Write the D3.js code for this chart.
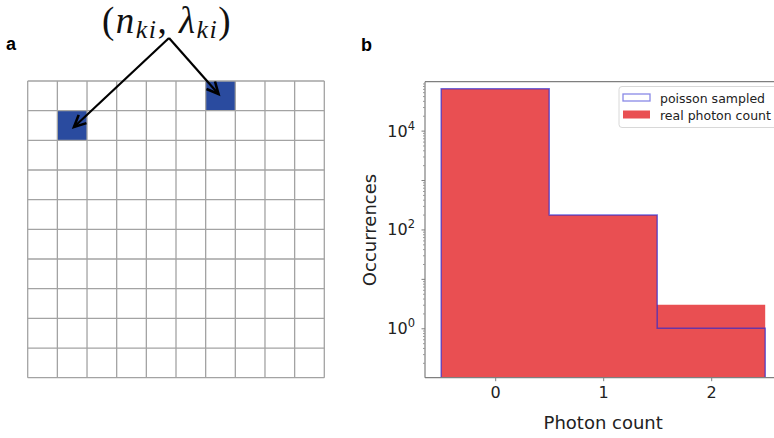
<!DOCTYPE html>
<html>
<head>
<meta charset="utf-8">
<script src="https://cdn.jsdelivr.net/npm/d3@7"></script>
<style>
  html, body { margin: 0; padding: 0; background: #fff; }
  svg { display: block; }
</style>
</head>
<body>
<svg id="fig" width="774" height="438"></svg>
<script>
// ---- panel a: pixel grid ----
const gridRows = d3.range(10);
const gridCols = d3.range(10);
const highlightedCells = [ { row: 0, col: 6 }, { row: 1, col: 1 } ];

// ---- panel b: photon-count histogram ----
const photonCounts = [0, 1, 2];
const realCounts = [70000, 195, 3];
const poissonCounts = [70000, 195, 1];
const yTickValues = [1, 100, 10000];
const yTickLabels = ["0", "2", "4"];
const seriesNames = ["poisson sampled", "real photon count"];

const svg = d3.select("#fig");
const sans = "DejaVu Sans, sans-serif";

// ===== Panel a =====
const ga = svg.append("g");
const gx = d3.scaleBand().domain(gridCols).range([27.7, 324.3]).paddingInner(0).paddingOuter(0);
const gy = d3.scaleBand().domain(gridRows).range([81, 377.7]);

ga.selectAll("rect.cell").data(highlightedCells).join("rect")
  .attr("class", "cell")
  .attr("x", d => gx(d.col)).attr("y", d => gy(d.row))
  .attr("width", gx.bandwidth()).attr("height", gy.bandwidth())
  .attr("fill", "#2a4b9f");

const gridLineColor = "#a3a3a3";
ga.selectAll("line.v").data(d3.range(11)).join("line")
  .attr("class", "v")
  .attr("x1", i => gx.range()[0] + i * gx.step()).attr("x2", i => gx.range()[0] + i * gx.step())
  .attr("y1", gy.range()[0]).attr("y2", gy.range()[1])
  .attr("stroke", gridLineColor).attr("stroke-width", 1.3);
ga.selectAll("line.h").data(d3.range(11)).join("line")
  .attr("class", "h")
  .attr("y1", i => gy.range()[0] + i * gy.step()).attr("y2", i => gy.range()[0] + i * gy.step())
  .attr("x1", gx.range()[0]).attr("x2", gx.range()[1])
  .attr("stroke", gridLineColor).attr("stroke-width", 1.3);

// annotation label
const lab = ga.append("text")
  .attr("x", 167).attr("y", 33)
  .attr("text-anchor", "middle")
  .attr("font-family", "Liberation Serif, Times New Roman, serif")
  .attr("font-size", 37)
  .attr("letter-spacing", 1.5)
  .attr("fill", "#111");
lab.append("tspan").text("(");
lab.append("tspan").attr("font-style", "italic").text("n");
lab.append("tspan").attr("font-style", "italic").attr("font-size", 26).attr("dy", 5).text("ki");
lab.append("tspan").attr("dy", -5).text(", ");
lab.append("tspan").attr("font-style", "italic").text("λ");
lab.append("tspan").attr("font-style", "italic").attr("font-size", 26).attr("dy", 5).text("ki");
lab.append("tspan").attr("dy", -5).text(")");

// arrows from the label to the two highlighted cells
const apex = [169, 38];
const arrowTips = [ [74, 127], [218.5, 94] ];
arrowTips.forEach(tip => {
  ga.append("line")
    .attr("x1", apex[0]).attr("y1", apex[1]).attr("x2", tip[0]).attr("y2", tip[1])
    .attr("stroke", "#000").attr("stroke-width", 2.2);
  const ang = Math.atan2(tip[1] - apex[1], tip[0] - apex[0]);
  const len = 13, spread = 0.45;
  const p1 = [tip[0] - len * Math.cos(ang - spread), tip[1] - len * Math.sin(ang - spread)];
  const p2 = [tip[0] - len * Math.cos(ang + spread), tip[1] - len * Math.sin(ang + spread)];
  ga.append("path")
    .attr("d", `M${p1[0]},${p1[1]}L${tip[0]},${tip[1]}L${p2[0]},${p2[1]}`)
    .attr("fill", "none").attr("stroke", "#000").attr("stroke-width", 2.6)
    .attr("stroke-linejoin", "miter");
});

// panel letters
svg.append("text").attr("x", 6).attr("y", 50).text("a")
  .attr("font-family", "Liberation Sans, Arial, sans-serif").attr("font-weight", "bold").attr("font-size", 18);
svg.append("text").attr("x", 361).attr("y", 51).text("b")
  .attr("font-family", "Liberation Sans, Arial, sans-serif").attr("font-weight", "bold").attr("font-size", 18);

// ===== Panel b =====
const gb = svg.append("g");
const axLeft = 425, axRight = 781.4, axTop = 81.7, axBottom = 377.7;
const x = d3.scaleLinear().domain([-0.65, 2.65]).range([axLeft, axRight]);
const y = d3.scaleLog().domain([0.1, Math.pow(10, 4.99)]).range([axBottom, axTop]);

const realColor = "#e94f52";
const poissonColor = "rgba(40,40,210,0.65)";

// step outline points for a histogram (bins centred on each count)
function stepPoints(counts) {
  const pts = [[x(photonCounts[0] - 0.5), axBottom]];
  photonCounts.forEach((c, i) => {
    pts.push([x(c - 0.5), y(counts[i])]);
    pts.push([x(c + 0.5), y(counts[i])]);
  });
  pts.push([x(photonCounts[photonCounts.length - 1] + 0.5), axBottom]);
  return pts;
}

// real photon count: filled histogram
gb.append("path")
  .attr("d", d3.line()(stepPoints(realCounts)) + "Z")
  .attr("fill", realColor);

// poisson sampled: step outline
gb.append("path")
  .attr("d", d3.line()(stepPoints(poissonCounts)))
  .attr("fill", "none").attr("stroke", poissonColor).attr("stroke-width", 1.5);

// spines
const spine = "#7f7f7f";
gb.append("line").attr("x1", axLeft).attr("x2", axLeft).attr("y1", axTop).attr("y2", axBottom).attr("stroke", spine).attr("stroke-width", 1.2);
gb.append("line").attr("x1", axLeft).attr("x2", axRight).attr("y1", axTop).attr("y2", axTop).attr("stroke", spine).attr("stroke-width", 1.2);
gb.append("line").attr("x1", axLeft).attr("x2", axRight).attr("y1", axBottom).attr("y2", axBottom).attr("stroke", spine).attr("stroke-width", 1.2);
gb.append("line").attr("x1", axRight).attr("x2", axRight).attr("y1", axTop).attr("y2", axBottom).attr("stroke", spine).attr("stroke-width", 1.2);

// x axis
const xAxis = d3.axisBottom(x).tickValues(photonCounts).tickFormat(d3.format("d")).tickSize(3.5).tickPadding(5);
const xg = gb.append("g").attr("transform", `translate(0,${axBottom})`).call(xAxis);
xg.select(".domain").remove();
xg.selectAll("line").attr("stroke", spine);
xg.selectAll("text").attr("font-family", sans).attr("font-size", 16).attr("fill", "#222");

// y axis: minor ticks, decade ticks, labels
const minorTicks = [];
for (let e = -1; e <= 4; e++) for (let m = 2; m <= 9; m++) {
  const v = m * Math.pow(10, e);
  if (v >= y.domain()[0] && v <= y.domain()[1]) minorTicks.push(v);
}
const yMinor = d3.axisLeft(y).tickValues(minorTicks).tickFormat("").tickSize(2);
const ym = gb.append("g").attr("transform", `translate(${axLeft},0)`).call(yMinor);
ym.select(".domain").remove();
ym.selectAll("line").attr("stroke", "#9a9a9a");

const decades = [1, 10, 100, 1000, 10000];
const yMajor = d3.axisLeft(y).tickValues(decades).tickFormat("").tickSize(3.5);
const yj = gb.append("g").attr("transform", `translate(${axLeft},0)`).call(yMajor);
yj.select(".domain").remove();
yj.selectAll("line").attr("stroke", spine);

const ylab = gb.append("g").selectAll("text").data(yTickValues).join("text")
  .attr("x", axLeft - 10).attr("y", d => y(d) + 6)
  .attr("text-anchor", "end")
  .attr("font-family", sans).attr("font-size", 16).attr("fill", "#222");
ylab.append("tspan").text("10");
ylab.append("tspan").attr("dy", -7).attr("font-size", 11.5).text((d, i) => yTickLabels[i]);

// axis titles
gb.append("text").attr("x", (x(-0.5) + x(2.5)) / 2).attr("y", 429)
  .attr("text-anchor", "middle").attr("font-family", sans).attr("font-size", 18).attr("fill", "#222")
  .text("Photon count");
gb.append("text").attr("transform", `translate(376,230) rotate(-90)`)
  .attr("text-anchor", "middle").attr("font-family", sans).attr("font-size", 18).attr("fill", "#222")
  .text("Occurrences");

// legend
const lg = gb.append("g").attr("transform", "translate(619,86.5)");
lg.append("rect").attr("x", 0).attr("y", 0).attr("width", 170).attr("height", 41).attr("rx", 3)
  .attr("fill", "#fff").attr("fill-opacity", 0.85).attr("stroke", "#d8d8d8");
lg.append("rect").attr("x", 4).attr("y", 7.5).attr("width", 27).attr("height", 7)
  .attr("fill", "none").attr("stroke", "rgba(40,40,210,0.55)").attr("stroke-width", 1.3);
lg.append("rect").attr("x", 4).attr("y", 24).attr("width", 27).attr("height", 8)
  .attr("fill", realColor);
lg.selectAll("text").data(seriesNames).join("text")
  .attr("x", 41).attr("y", (d, i) => 16 + i * 17)
  .attr("font-family", sans).attr("font-size", 12.5).attr("fill", "#222")
  .text(d => d);
</script>
</body>
</html>
